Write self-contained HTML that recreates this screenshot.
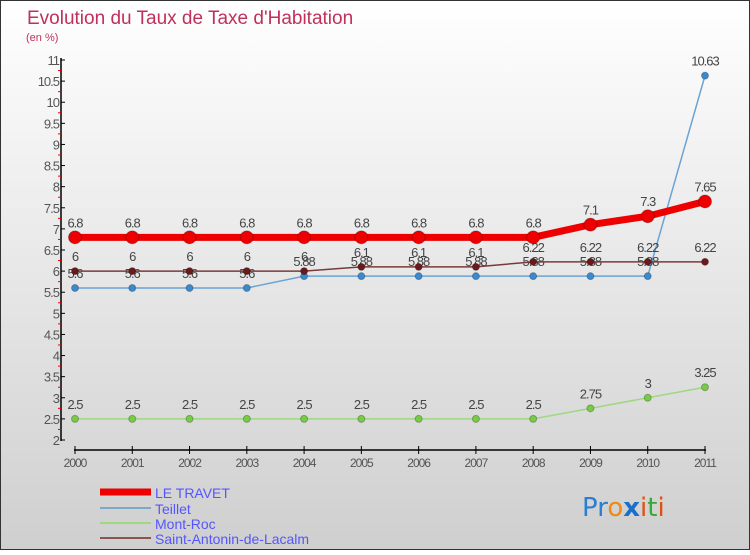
<!DOCTYPE html>
<html><head><meta charset="utf-8"><style>
body{margin:0;}
#c{width:750px;height:550px;position:relative;font-family:"Liberation Sans",sans-serif;}
</style></head><body>
<div id="c">
<svg id="s" width="750" height="550" xmlns="http://www.w3.org/2000/svg">
<defs><linearGradient id="bg" x1="0" y1="0" x2="0" y2="1"><stop offset="0" stop-color="#ffffff"/><stop offset="1" stop-color="#cfcfcf"/></linearGradient></defs>
<rect x="0.5" y="0.5" width="749" height="549" fill="url(#bg)" stroke="#333"/>
<text x="27" y="24" font-size="19" fill="#c0305a">Evolution du Taux de Taxe d'Habitation</text>
<text x="26" y="41" font-size="11" fill="#c0305a">(en %)</text>
<g id="axes"></g><g id="series"></g>
<g>
<line x1="100" y1="492" x2="151" y2="492" stroke="#ee0000" stroke-width="7"/>
<text x="155" y="498" font-size="14" fill="#5555ff">LE TRAVET</text>
<line x1="100" y1="508" x2="151" y2="508" stroke="#7aaac8" stroke-width="2"/>
<text x="155" y="514" font-size="14" fill="#5555ff">Teillet</text>
<line x1="100" y1="523" x2="151" y2="523" stroke="#9ed880" stroke-width="2"/>
<text x="155" y="529" font-size="14" fill="#5555ff">Mont-Roc</text>
<line x1="100" y1="538" x2="151" y2="538" stroke="#8a5555" stroke-width="2"/>
<text x="155" y="544" font-size="14" fill="#5555ff">Saint-Antonin-de-Lacalm</text>
</g>
<text x="582" y="516" font-size="26" font-family="'DejaVu Sans',sans-serif"><tspan fill="#2a7fd0">Pr</tspan><tspan fill="#f08a10">o</tspan><tspan fill="#1a70c8" font-weight="bold">x</tspan><tspan fill="#e05010">i</tspan><tspan fill="#38a838">t</tspan><tspan fill="#e05010">i</tspan></text>
</svg></div>
<script>
const years=["2000","2001","2002","2003","2004","2005","2006","2007","2008","2009","2010","2011"];
const yTicks=[2,2.5,3,3.5,4,4.5,5,5.5,6,6.5,7,7.5,8,8.5,9,9.5,10,10.5,11];
const leTravet=[6.8,6.8,6.8,6.8,6.8,6.8,6.8,6.8,6.8,7.1,7.3,7.65];
const teillet=[5.6,5.6,5.6,5.6,5.88,5.88,5.88,5.88,5.88,5.88,5.88,10.63];
const montRoc=[2.5,2.5,2.5,2.5,2.5,2.5,2.5,2.5,2.5,2.75,3,3.25];
const saintAntonin=[6,6,6,6,6,6.1,6.1,6.1,6.22,6.22,6.22,6.22];
const NS="http://www.w3.org/2000/svg";
function X(i){return 75+i*(705-75)/11;}
function Y(v){return 440-(v-2)*(380/9);}
function mk(t,a,p){const e=document.createElementNS(NS,t);for(const k in a)e.setAttribute(k,a[k]);p.appendChild(e);return e;}
const ax=document.getElementById('axes');
let l=mk('line',{x1:61,y1:58,x2:61,y2:441,stroke:'#000','stroke-width':1.5},ax);


l=mk('line',{x1:74,y1:450,x2:706,y2:450,stroke:'#000','stroke-width':1.5},ax);


yTicks.forEach((v,i)=>{
 const y=Y(v);
 mk('line',{x1:61,y1:y,x2:65,y2:y,stroke:'#000'},ax);
 mk('line',{x1:58,y1:Y(v+0.25),x2:61,y2:Y(v+0.25),stroke:i<yTicks.length-1?'#e00':'none'},ax);
 const t=mk('text',{x:59,y:y+5,'text-anchor':'end','font-size':13,fill:'#555','letter-spacing':'-1'},ax);
 t.textContent=String(v);
 
 
});
years.forEach((yr,i)=>{
 mk('line',{x1:X(i),y1:446,x2:X(i),y2:454,stroke:'#000'},ax);
 const t=mk('text',{x:X(i),y:467,'text-anchor':'middle','font-size':12,fill:'#555','letter-spacing':'-1'},ax);
 t.textContent=yr;
 
 
});
const sg=document.getElementById('series');
function draw(vals,color,w,r,name,dotColor){
 const g=mk('g',{},sg);
 
 
 mk('polyline',{points:vals.map((v,i)=>X(i)+','+Y(v)).join(' '),fill:'none',stroke:color,'stroke-width':w},g);
 vals.forEach((v,i)=>{
  const c=mk('circle',{cx:X(i),cy:Y(v),r:r,fill:dotColor,stroke:'rgba(0,0,0,0.25)','stroke-width':1},g);
  
  
  const t=mk('text',{x:X(i),y:Y(v)-10,'text-anchor':'middle','font-size':13,fill:'#444','letter-spacing':'-1'},g);
  t.textContent=String(v);
  
  
 });
}
draw(teillet,'#6aa4d4',1.5,3.5,'teillet','#3a8ad0');
draw(montRoc,'#9ed880',1.5,3.5,'mont-roc','#77cc44');
draw(saintAntonin,'#7a3a3a',1.5,3.5,'saint-antonin','#6a1a1a');
draw(leTravet,'#ee0000',7,6.5,'le-travet','#ee0000');
</script>
</body></html>
